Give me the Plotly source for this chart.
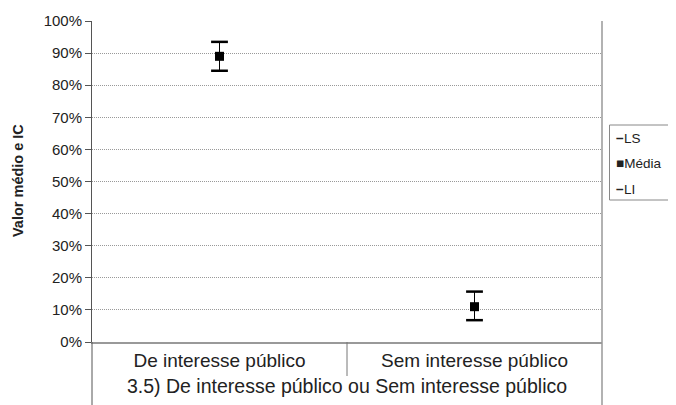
import plotly.graph_objects as go

categories = ["De interesse público", "Sem interesse público"]
media = [0.89, 0.11]
ls_vals = [0.935, 0.157]
li_vals = [0.845, 0.068]
y_ticks = [i / 10 for i in range(11)]
y_tick_labels = [f"{i*10}%" for i in range(11)]
group_title = "3.5) De interesse público ou Sem interesse público"
legend_names = ["LS", "Média", "LI"]
legend_glyphs = ["<b>\u2212</b>", "\u25A0", "<b>\u2212</b>"]

FONT = "Liberation Sans, Arial, sans-serif"

fig = go.Figure()

# vertical high-low connectors
cx, cy = [], []
for c, lo, hi in zip(categories, li_vals, ls_vals):
    cx += [c, c, None]
    cy += [lo, hi, None]
fig.add_trace(go.Scatter(x=cx, y=cy, mode="lines", line=dict(color="black", width=1),
                         showlegend=False, hoverinfo="skip"))

fig.add_trace(go.Scatter(x=categories, y=ls_vals, mode="markers", name=legend_names[0],
                         marker=dict(symbol="line-ew", size=12, color="black",
                                     line=dict(color="black", width=2.5))))
fig.add_trace(go.Scatter(x=categories, y=media, mode="markers", name=legend_names[1],
                         marker=dict(symbol="square", size=9, color="black")))
fig.add_trace(go.Scatter(x=categories, y=li_vals, mode="markers", name=legend_names[2],
                         marker=dict(symbol="line-ew", size=12, color="black",
                                     line=dict(color="black", width=2.5))))

# page body has an 8px margin: work in window pixels, convert to figure pixels
OFF = 8
W, H = 676 - OFF, 405 - OFF
L, R, T, B = 92 - OFF, 676 - 602, 21 - OFF, 405 - 342
pw, ph = W - L - R, H - T - B

def py(v):  # window pixel y -> paper y
    return (342 - v) / ph

def px(v):  # window pixel x -> paper x
    return (v - 92) / pw

fig.update_layout(
    width=W, height=H,
    margin=dict(l=L, r=R, t=T, b=B, pad=0, autoexpand=False),
    paper_bgcolor="white", plot_bgcolor="white",
    font=dict(family=FONT, size=14, color="#222"),
    showlegend=False,
    xaxis=dict(type="category", categoryorder="array", categoryarray=categories,
               range=[-0.5, 1.5], showgrid=False, zeroline=False,
               showline=True, linecolor="#999", linewidth=1.5,
               ticks="", tickfont=dict(size=19, color="#222")),
    yaxis=dict(range=[0, 1], tickvals=y_ticks, ticktext=y_tick_labels,
               showgrid=True, gridcolor="#999", griddash="1px,1px", gridwidth=1,
               zeroline=False, showline=True, linecolor="#555", linewidth=1,
               ticks="outside", ticklen=6, tickcolor="#555",
               tickfont=dict(size=15, color="#222")),
)

shapes = []
# left axis extension down to bottom
shapes.append(dict(type="line", xref="paper", yref="paper", x0=0, x1=0,
                   y0=0, y1=py(405), line=dict(color="#555", width=1)))
# right border line
shapes.append(dict(type="line", xref="paper", yref="paper", x0=1, x1=1,
                   y0=1, y1=py(405), line=dict(color="#999", width=1.5)))
# divider between categories
shapes.append(dict(type="line", xref="x", yref="paper", x0=0.5, x1=0.5,
                   y0=0, y1=py(376), line=dict(color="#777", width=1)))
# legend box
shapes.append(dict(type="rect", xref="paper", yref="paper",
                   x0=px(609.5), x1=px(674.5), y0=py(125), y1=py(200),
                   line=dict(color="#888", width=1), fillcolor="white"))
fig.update_layout(shapes=shapes)

for i, (g, n) in enumerate(zip(legend_glyphs, legend_names)):
    yc = 138 + i * 25.5
    fig.add_annotation(text=g + n, xref="paper", yref="paper",
                       x=px(614), y=py(yc), showarrow=False,
                       xanchor="left", yanchor="middle",
                       font=dict(size=13.5, color="#222"))

fig.add_annotation(text=group_title, xref="paper", yref="paper",
                   x=px(347), y=py(386), showarrow=False,
                   font=dict(size=19.5, color="#222"), xanchor="center", yanchor="middle")
fig.add_annotation(text="<b>Valor médio e IC</b>", xref="paper", yref="paper",
                   x=px(18), y=py(181), showarrow=False, textangle=-90,
                   font=dict(size=14.5, color="#222"), xanchor="center", yanchor="middle")

fig.write_html("out.html")
